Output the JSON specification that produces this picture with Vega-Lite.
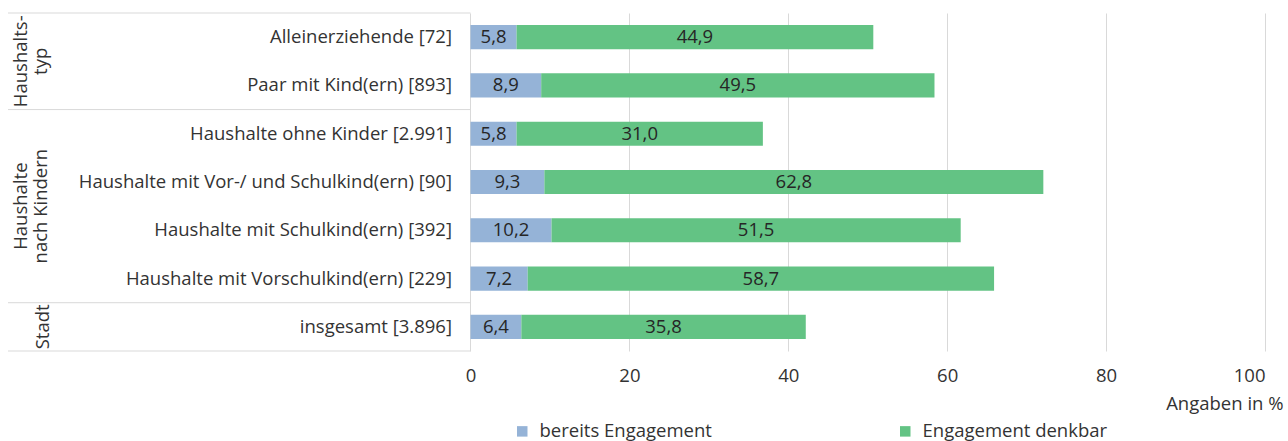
{
  "$schema": "https://vega.github.io/schema/vega-lite/v6.json",
  "width": 1257,
  "height": 338,
  "autosize": {"type": "none"},
  "padding": {"left": 8, "top": 13, "right": 23, "bottom": 90},
  "config": {
    "view": {"stroke": null},
    "font": "Open Sans",
    "locale": {"number": {"decimal": ",", "thousands": ".", "grouping": [3], "currency": ["", " €"]}}
  },
  "datasets": {
    "bars": [
      {"cat": "Alleinerziehende [72]", "series": "bereits Engagement", "ord": 1, "value": 5.8},
      {"cat": "Alleinerziehende [72]", "series": "Engagement denkbar", "ord": 2, "value": 44.9},
      {"cat": "Paar mit Kind(ern) [893]", "series": "bereits Engagement", "ord": 1, "value": 8.9},
      {"cat": "Paar mit Kind(ern) [893]", "series": "Engagement denkbar", "ord": 2, "value": 49.5},
      {"cat": "Haushalte ohne Kinder [2.991]", "series": "bereits Engagement", "ord": 1, "value": 5.8},
      {"cat": "Haushalte ohne Kinder [2.991]", "series": "Engagement denkbar", "ord": 2, "value": 31.0},
      {"cat": "Haushalte mit Vor-/ und Schulkind(ern) [90]", "series": "bereits Engagement", "ord": 1, "value": 9.3},
      {"cat": "Haushalte mit Vor-/ und Schulkind(ern) [90]", "series": "Engagement denkbar", "ord": 2, "value": 62.8},
      {"cat": "Haushalte mit Schulkind(ern) [392]", "series": "bereits Engagement", "ord": 1, "value": 10.2},
      {"cat": "Haushalte mit Schulkind(ern) [392]", "series": "Engagement denkbar", "ord": 2, "value": 51.5},
      {"cat": "Haushalte mit Vorschulkind(ern) [229]", "series": "bereits Engagement", "ord": 1, "value": 7.2},
      {"cat": "Haushalte mit Vorschulkind(ern) [229]", "series": "Engagement denkbar", "ord": 2, "value": 58.7},
      {"cat": "insgesamt [3.896]", "series": "bereits Engagement", "ord": 1, "value": 6.4},
      {"cat": "insgesamt [3.896]", "series": "Engagement denkbar", "ord": 2, "value": 35.8}
    ],
    "seps": [
      {"cat": "Alleinerziehende [72]"},
      {"cat": "Haushalte ohne Kinder [2.991]"},
      {"cat": "insgesamt [3.896]"}
    ],
    "groups2": [
      {"cat": "Alleinerziehende [72]", "grp": ["Haushalts-", "typ"]},
      {"cat": "Haushalte mit Vor-/ und Schulkind(ern) [90]", "grp": ["Haushalte", "nach Kindern"]}
    ],
    "groups1": [
      {"cat": "insgesamt [3.896]", "grp": "Stadt"}
    ]
  },
  "layer": [
    {
      "data": {"name": "seps"},
      "mark": {"type": "rule", "color": "#D9D9D9", "strokeWidth": 1},
      "encoding": {
        "y": {"field": "cat", "type": "nominal", "bandPosition": 0, "axis": null,
              "sort": ["Alleinerziehende [72]", "Paar mit Kind(ern) [893]", "Haushalte ohne Kinder [2.991]", "Haushalte mit Vor-/ und Schulkind(ern) [90]", "Haushalte mit Schulkind(ern) [392]", "Haushalte mit Vorschulkind(ern) [229]", "insgesamt [3.896]"],
              "scale": {"paddingInner": 0, "paddingOuter": 0}},
        "x": {"datum": -58.21, "type": "quantitative", "scale": {"domain": [-58.21, 100], "nice": false, "zero": false},
              "title": "Angaben in %",
              "axis": {"values": [0, 20, 40, 60, 80, 100], "grid": true, "gridColor": "#D9D9D9", "ticks": false, "domain": false, "labelFontSize": 18.5, "labelColor": "#333333", "labelPadding": 15, "titleFontSize": 18.5, "titleFontWeight": "normal", "titleColor": "#333333", "titleAnchor": "end", "titleAlign": "right", "titleX": 1275, "titlePadding": 10}},
        "x2": {"datum": 0}
      }
    },
    {
      "data": {"values": [{"cat": "insgesamt [3.896]"}]},
      "mark": {"type": "rule", "color": "#D9D9D9", "strokeWidth": 1},
      "encoding": {
        "y": {"field": "cat", "type": "nominal", "bandPosition": 1, "axis": null,
              "sort": ["Alleinerziehende [72]", "Paar mit Kind(ern) [893]", "Haushalte ohne Kinder [2.991]", "Haushalte mit Vor-/ und Schulkind(ern) [90]", "Haushalte mit Schulkind(ern) [392]", "Haushalte mit Vorschulkind(ern) [229]", "insgesamt [3.896]"],
              "scale": {"paddingInner": 0, "paddingOuter": 0}},
        "x": {"datum": -58.21, "type": "quantitative", "scale": {"domain": [-58.21, 100], "nice": false, "zero": false},
              "title": "Angaben in %",
              "axis": {"values": [0, 20, 40, 60, 80, 100], "grid": true, "gridColor": "#D9D9D9", "ticks": false, "domain": false, "labelFontSize": 18.5, "labelColor": "#333333", "labelPadding": 15, "titleFontSize": 18.5, "titleFontWeight": "normal", "titleColor": "#333333", "titleAnchor": "end", "titleAlign": "right", "titleX": 1275, "titlePadding": 10}},
        "x2": {"datum": 0}
      }
    },
    {
      "data": {"name": "bars"},
      "transform": [
        {"stack": "value", "groupby": ["cat"], "sort": [{"field": "ord", "order": "ascending"}], "as": ["x0", "x1"]},
        {"calculate": "(datum.x0 + datum.x1) / 2", "as": "mid"}
      ],
      "layer": [
        {
          "mark": {"type": "bar", "height": {"band": 0.5}},
          "encoding": {
            "y": {"field": "cat", "type": "nominal", "axis": null,
                  "sort": ["Alleinerziehende [72]", "Paar mit Kind(ern) [893]", "Haushalte ohne Kinder [2.991]", "Haushalte mit Vor-/ und Schulkind(ern) [90]", "Haushalte mit Schulkind(ern) [392]", "Haushalte mit Vorschulkind(ern) [229]", "insgesamt [3.896]"],
                  "scale": {"paddingInner": 0, "paddingOuter": 0}},
            "x": {"field": "x0", "type": "quantitative", "scale": {"domain": [-58.21, 100], "nice": false, "zero": false},
                  "title": "Angaben in %",
                  "axis": {"values": [0, 20, 40, 60, 80, 100], "grid": true, "gridColor": "#D9D9D9", "ticks": false, "domain": false, "labelFontSize": 18.5, "labelColor": "#333333", "labelPadding": 15, "titleFontSize": 18.5, "titleFontWeight": "normal", "titleColor": "#333333", "titleAnchor": "end", "titleAlign": "right", "titleX": 1275, "titlePadding": 10}},
            "x2": {"field": "x1"},
            "color": {"field": "series", "type": "nominal",
                      "scale": {"domain": ["bereits Engagement", "Engagement denkbar"], "range": ["#95B3D7", "#63C384"]},
                      "legend": {"title": null, "orient": "none", "legendX": 505, "legendY": 409, "direction": "horizontal", "columns": 2, "symbolType": "square", "symbolSize": 110, "symbolStrokeWidth": 0, "labelFontSize": 18.5, "labelColor": "#333333", "labelLimit": 400, "columnPadding": 184, "labelOffset": 8}}
          }
        },
        {
          "mark": {"type": "text", "fontSize": 18.5, "color": "#262626"},
          "encoding": {
            "y": {"field": "cat", "type": "nominal", "axis": null,
                  "sort": ["Alleinerziehende [72]", "Paar mit Kind(ern) [893]", "Haushalte ohne Kinder [2.991]", "Haushalte mit Vor-/ und Schulkind(ern) [90]", "Haushalte mit Schulkind(ern) [392]", "Haushalte mit Vorschulkind(ern) [229]", "insgesamt [3.896]"],
                  "scale": {"paddingInner": 0, "paddingOuter": 0}},
            "x": {"field": "mid", "type": "quantitative", "scale": {"domain": [-58.21, 100], "nice": false, "zero": false},
                  "title": "Angaben in %",
                  "axis": {"values": [0, 20, 40, 60, 80, 100], "grid": true, "gridColor": "#D9D9D9", "ticks": false, "domain": false, "labelFontSize": 18.5, "labelColor": "#333333", "labelPadding": 15, "titleFontSize": 18.5, "titleFontWeight": "normal", "titleColor": "#333333", "titleAnchor": "end", "titleAlign": "right", "titleX": 1275, "titlePadding": 10}},
            "text": {"field": "value", "type": "quantitative", "format": ".1f"}
          }
        },
        {
          "transform": [{"filter": "datum.ord === 1"}],
          "mark": {"type": "text", "fontSize": 18.5, "color": "#333333", "align": "right"},
          "encoding": {
            "y": {"field": "cat", "type": "nominal", "axis": null,
                  "sort": ["Alleinerziehende [72]", "Paar mit Kind(ern) [893]", "Haushalte ohne Kinder [2.991]", "Haushalte mit Vor-/ und Schulkind(ern) [90]", "Haushalte mit Schulkind(ern) [392]", "Haushalte mit Vorschulkind(ern) [229]", "insgesamt [3.896]"],
                  "scale": {"paddingInner": 0, "paddingOuter": 0}},
            "x": {"datum": -2.33, "type": "quantitative", "scale": {"domain": [-58.21, 100], "nice": false, "zero": false},
                  "title": "Angaben in %",
                  "axis": {"values": [0, 20, 40, 60, 80, 100], "grid": true, "gridColor": "#D9D9D9", "ticks": false, "domain": false, "labelFontSize": 18.5, "labelColor": "#333333", "labelPadding": 15, "titleFontSize": 18.5, "titleFontWeight": "normal", "titleColor": "#333333", "titleAnchor": "end", "titleAlign": "right", "titleX": 1275, "titlePadding": 10}},
            "text": {"field": "cat", "type": "nominal"}
          }
        }
      ]
    },
    {
      "data": {"name": "groups2"},
      "mark": {"type": "text", "fontSize": 18.5, "color": "#333333", "angle": 270, "align": "center", "baseline": "bottom", "lineHeight": 20},
      "encoding": {
        "y": {"field": "cat", "type": "nominal", "bandPosition": 1, "axis": null,
              "sort": ["Alleinerziehende [72]", "Paar mit Kind(ern) [893]", "Haushalte ohne Kinder [2.991]", "Haushalte mit Vor-/ und Schulkind(ern) [90]", "Haushalte mit Schulkind(ern) [392]", "Haushalte mit Vorschulkind(ern) [229]", "insgesamt [3.896]"],
              "scale": {"paddingInner": 0, "paddingOuter": 0}},
        "x": {"datum": -55.3, "type": "quantitative", "scale": {"domain": [-58.21, 100], "nice": false, "zero": false},
              "title": "Angaben in %",
              "axis": {"values": [0, 20, 40, 60, 80, 100], "grid": true, "gridColor": "#D9D9D9", "ticks": false, "domain": false, "labelFontSize": 18.5, "labelColor": "#333333", "labelPadding": 15, "titleFontSize": 18.5, "titleFontWeight": "normal", "titleColor": "#333333", "titleAnchor": "end", "titleAlign": "right", "titleX": 1275, "titlePadding": 10}},
        "text": {"field": "grp"}
      }
    },
    {
      "data": {"name": "groups1"},
      "mark": {"type": "text", "fontSize": 18.5, "color": "#333333", "angle": 270, "align": "center", "baseline": "bottom"},
      "encoding": {
        "y": {"field": "cat", "type": "nominal", "axis": null,
              "sort": ["Alleinerziehende [72]", "Paar mit Kind(ern) [893]", "Haushalte ohne Kinder [2.991]", "Haushalte mit Vor-/ und Schulkind(ern) [90]", "Haushalte mit Schulkind(ern) [392]", "Haushalte mit Vorschulkind(ern) [229]", "insgesamt [3.896]"],
              "scale": {"paddingInner": 0, "paddingOuter": 0}},
        "x": {"datum": -52.6, "type": "quantitative", "scale": {"domain": [-58.21, 100], "nice": false, "zero": false},
              "title": "Angaben in %",
              "axis": {"values": [0, 20, 40, 60, 80, 100], "grid": true, "gridColor": "#D9D9D9", "ticks": false, "domain": false, "labelFontSize": 18.5, "labelColor": "#333333", "labelPadding": 15, "titleFontSize": 18.5, "titleFontWeight": "normal", "titleColor": "#333333", "titleAnchor": "end", "titleAlign": "right", "titleX": 1275, "titlePadding": 10}},
        "text": {"field": "grp"}
      }
    }
  ]
}
